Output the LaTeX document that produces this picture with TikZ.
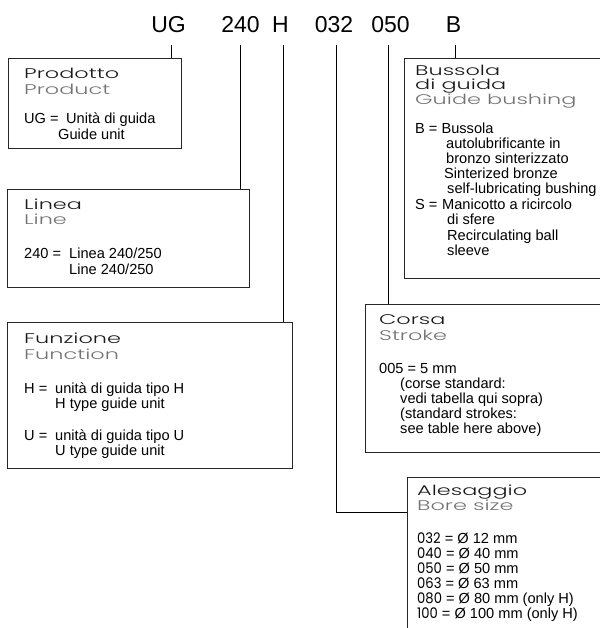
\documentclass[tikz,border=0pt]{standalone}
\usepackage{fontspec}
\setmainfont{Liberation Sans}
\newfontfamily\hd{Poppins Light}[FakeStretch=1.6]
\newfontfamily\hdn{Poppins}[FakeStretch=0.9,Numbers=Lining]
\begin{document}
\begin{tikzpicture}[x=1pt,y=-1pt,
  box/.style={draw=black!85, line width=0.9pt, anchor=north west, inner sep=0, outer sep=0},
  conn/.style={draw=black, line width=0.8pt},
  top/.style={anchor=base, inner sep=0, font=\fontsize{23}{23}\selectfont},
  hdA/.style={anchor=base west, inner sep=0, font=\hd\fontsize{14}{14}\selectfont, text=black!90},
  hdB/.style={anchor=base west, inner sep=0, font=\hd\fontsize{14}{14}\selectfont, text=black!55},
  body/.style={anchor=base west, inner sep=0, font=\fontsize{14.6}{15}\selectfont}]
\useasboundingbox (0,0) rectangle (599,628);
% top code
\node[top] (tUG) at (168.5,33) {UG};
\node[top] (t240) at (240.5,33) {240};
\node[top] (tH) at (280.5,33) {H};
\node[top] (t032) at (334,33) {032};
\node[top] (t050) at (390.5,33) {050};
\node[top] (tB) at (453.5,33) {B};
\coordinate (cUG) at (171,45);
\coordinate (c240) at (240,45);
\coordinate (cH) at (283,45);
\coordinate (c032) at (336,45);
\coordinate (c050) at (388,45);
\coordinate (cB) at (455,45);
% boxes
\node[box, minimum width=173pt, minimum height=90pt] (prod) at (8,58) {};
\node[box, minimum width=242pt, minimum height=98pt] (lin) at (7,189) {};
\node[box, minimum width=285pt, minimum height=146pt] (fun) at (7,322) {};
\node[box, minimum width=210pt, minimum height=220pt] (bus) at (404,58) {};
\node[box, minimum width=250pt, minimum height=148pt] (cor) at (365,304) {};
\node[box, minimum width=210pt, minimum height=170pt] (ale) at (407,477) {};
% connectors
\draw[conn] (cUG) -- (cUG |- prod.north);
\draw[conn] (c240) -- (c240 |- lin.north);
\draw[conn] (cH) -- (cH |- fun.north);
\draw[conn] (c050) -- (c050 |- cor.north);
\draw[conn] (cB) -- (cB |- bus.north);
\coordinate (k032) at (336,512);
\draw[conn] (c032) -- (k032) -- (k032 -| ale.west);
% Product
\node[hdA] (p1) at (24,79) {Prodotto};
\node[hdB] (p2) at (24,95) {Product};
\node[body] (p3) at (24,124) {UG =};
\node[body] (p4) at (66,124) {Unità di guida};
\node[body] (p5) at (58,140) {Guide unit};
% Line
\node[hdA] (l1) at (24,209) {Linea};
\node[hdB] (l2) at (24,225) {Line};
\node[body] (l3) at (24,258) {240 =};
\node[body] (l4) at (69,258) {Linea 240/250};
\node[body] (l5) at (69,274) {Line 240/250};
% Function
\node[hdA] (f1) at (24,343) {Funzione};
\node[hdB] (f2) at (24,359) {Function};
\node[body] (f3) at (24,393) {H =};
\node[body] (f4) at (55,393) {unità di guida tipo H};
\node[body] (f5) at (55,408) {H type guide unit};
\node[body] (f6) at (24,440) {U =};
\node[body] (f7) at (55,440) {unità di guida tipo U};
\node[body] (f8) at (55,455) {U type guide unit};
% Bushing
\node[hdA] (b1) at (415,76) {Bussola};
\node[hdA] (b2) at (415,90) {di guida};
\node[hdB] (b3) at (415,105) {Guide bushing};
\node[body] (b4) at (415,134) {B = Bussola};
\node[body] (b6) at (446,149) {autolubrificante in};
\node[body] (b7) at (446,164) {bronzo sinterizzato};
\node[body] (b8) at (444,179) {Sinterized bronze};
\node[body] (b9) at (447,194) {self-lubricating bushing};
\node[body] (b10) at (415,210) {S =};
\node[body] (b11) at (442,210) {Manicotto a ricircolo};
\node[body] (b12) at (447,225) {di sfere};
\node[body] (b13) at (447,240) {Recirculating ball};
\node[body] (b14) at (447,255) {sleeve};
% Stroke
\node[hdA] (s1) at (379,324) {Corsa};
\node[hdB] (s2) at (379,340) {Stroke};
\node[body] (s3) at (379,373) {005 = 5 mm};
\node[body] (s4) at (400,388) {(corse standard:};
\node[body] (s5) at (400,403) {vedi tabella qui sopra)};
\node[body] (s6) at (400,418) {(standard strokes:};
\node[body] (s7) at (400,433) {see table here above)};
% Bore
\node[hdA] (a1) at (417,495) {Alesaggio};
\node[hdB] (a2) at (417,510) {Bore size};
\node[body] (a3) at (417,543) {{\hdn 032} = Ø 12 mm};
\node[body] (a5) at (417,558) {{\hdn 040} = Ø 40 mm};
\node[body] (a7) at (417,573) {{\hdn 050} = Ø 50 mm};
\node[body] (a9) at (417,588) {{\hdn 063} = Ø 63 mm};
\node[body] (a11) at (417,603) {{\hdn 080} = Ø 80 mm (only H)};
\node[body] (a13) at (417,618) {{\hdn 100} = Ø 100 mm (only H)};
\end{tikzpicture}
\end{document}
